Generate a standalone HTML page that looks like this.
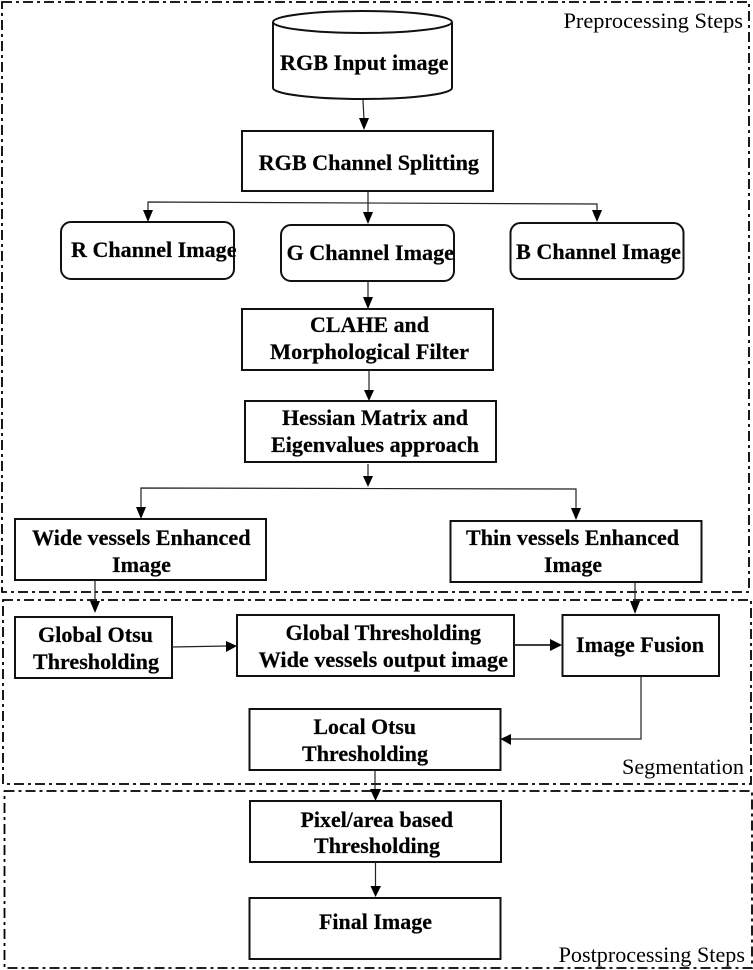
<!DOCTYPE html>
<html><head><meta charset="utf-8"><style>
html,body{margin:0;padding:0;background:#fff;width:753px;height:970px;overflow:hidden}
svg{display:block}
text{font-family:"Liberation Serif",serif;font-size:22px;fill:#000;font-weight:bold;stroke:#000;stroke-width:.2px}
text.r{font-weight:normal;stroke:none}
.b{fill:#fff;stroke:#111;stroke-width:2}
.f{fill:none;stroke:#000;stroke-width:1.8;stroke-dasharray:10 4 3 4}
.l{fill:none;stroke:#222;stroke-width:1.2}
.a{fill:#000;stroke:none}
</style></head><body>
<svg width="753" height="970" viewBox="0 0 753 970" xmlns="http://www.w3.org/2000/svg">
<rect class="f" x="2" y="2" width="747" height="590"/>
<rect class="f" x="3" y="600" width="748" height="184"/>
<rect class="f" x="4.5" y="791" width="747.5" height="177"/>

<path class="b" d="M273 22V88C273 94 313 99 362.500 99S452 94 452 88V22"/>
<ellipse class="b" cx="362.500" cy="22" rx="89.500" ry="11"/>
<rect class="b" x="242" y="131" width="251" height="60"/>
<rect class="b" x="61" y="222" width="173" height="57" rx="10"/>
<rect class="b" x="281" y="225" width="173" height="56" rx="10"/>
<rect class="b" x="510.500" y="223" width="173" height="56" rx="10"/>
<rect class="b" x="242" y="309" width="251" height="61"/>
<rect class="b" x="245" y="401" width="251" height="61"/>
<rect class="b" x="15" y="519" width="251" height="61"/>
<rect class="b" x="450.500" y="521" width="251" height="61"/>
<rect class="b" x="15" y="617" width="157" height="61"/>
<rect class="b" x="237" y="615" width="277" height="61"/>
<rect class="b" x="562.500" y="615" width="156.500" height="61"/>
<rect class="b" x="249.500" y="709" width="251" height="61"/>
<rect class="b" x="250" y="801" width="251" height="61"/>
<rect class="b" x="249.500" y="898" width="251" height="61"/>

<path class="l" d="M363 100L364 120"/><path class="a" d="M359 118H369L364 130Z"/>
<path class="l" d="M368 191V213"/><path class="a" d="M363 212H373L368 224Z"/>
<path class="l" d="M148 212V202L597 204V212"/>
<path class="a" d="M143 210H153L148 222Z"/><path class="a" d="M592 210H602L597 222Z"/>
<path class="l" d="M368 281V298"/><path class="a" d="M363 297H373L368 309Z"/>
<path class="l" d="M369 370V392"/><path class="a" d="M364 390H374L369 401Z"/>
<path class="l" d="M368 464V478"/><path class="a" d="M363 476H373L368 487Z"/>
<path class="l" d="M141 510V488L576 489V510"/>
<path class="a" d="M136 507H146L141 519Z"/><path class="a" d="M571 508H581L576 520Z"/>
<path class="l" d="M95 580V603"/><path class="a" d="M90 601H100L95 613Z"/>
<path class="l" d="M635 582V603"/><path class="a" d="M630 601H640L635 614Z"/>
<path class="l" d="M172 647L227 646"/><path class="a" d="M226 641V652L237 646Z"/>
<path class="l" d="M514 645H552" style="stroke-width:1.800"/><path class="a" d="M550 639V651L562 645Z"/>
<path class="l" d="M641 676V739H510"/><path class="a" d="M511 734V745L500.500 739Z"/>
<path class="l" d="M375 770V790"/><path class="a" d="M370 789H381L375.500 801Z"/>
<path class="l" d="M375.500 862V887"/><path class="a" d="M370.500 886H381L375.500 897Z"/>

<text class="r" x="563.500" y="28" textLength="179.500" lengthAdjust="spacingAndGlyphs">Preprocessing Steps</text>
<text x="280" y="70" textLength="168.500" lengthAdjust="spacingAndGlyphs">RGB Input image</text>
<text x="258.600" y="170" textLength="220.400" lengthAdjust="spacingAndGlyphs">RGB Channel Splitting</text>
<text x="71" y="257" textLength="165.500" lengthAdjust="spacingAndGlyphs">R Channel Image</text>
<text x="286.500" y="260" textLength="167.500" lengthAdjust="spacingAndGlyphs">G Channel Image</text>
<text x="516" y="259" textLength="165" lengthAdjust="spacingAndGlyphs">B Channel Image</text>
<text x="310" y="332" textLength="119" lengthAdjust="spacingAndGlyphs">CLAHE and</text>
<text x="270" y="359" textLength="199" lengthAdjust="spacingAndGlyphs">Morphological Filter</text>
<text x="282" y="425" textLength="186" lengthAdjust="spacingAndGlyphs">Hessian Matrix and</text>
<text x="271" y="452" textLength="208" lengthAdjust="spacingAndGlyphs">Eigenvalues approach</text>
<text x="32" y="545" textLength="218.500" lengthAdjust="spacingAndGlyphs">Wide vessels Enhanced</text>
<text x="112" y="572" textLength="59" lengthAdjust="spacingAndGlyphs">Image</text>
<text x="466" y="545" textLength="213" lengthAdjust="spacingAndGlyphs">Thin vessels Enhanced</text>
<text x="544" y="572" textLength="58" lengthAdjust="spacingAndGlyphs">Image</text>
<text x="38" y="642" textLength="115" lengthAdjust="spacingAndGlyphs">Global Otsu</text>
<text x="33" y="669" textLength="126" lengthAdjust="spacingAndGlyphs">Thresholding</text>
<text x="285.500" y="640" textLength="195.500" lengthAdjust="spacingAndGlyphs">Global Thresholding</text>
<text x="258.600" y="667" textLength="249.400" lengthAdjust="spacingAndGlyphs">Wide vessels output image</text>
<text x="576" y="652" textLength="128" lengthAdjust="spacingAndGlyphs">Image Fusion</text>
<text x="313.500" y="734" textLength="102.500" lengthAdjust="spacingAndGlyphs">Local Otsu</text>
<text x="302" y="761" textLength="126" lengthAdjust="spacingAndGlyphs">Thresholding</text>
<text class="r" x="622" y="774" textLength="122" lengthAdjust="spacingAndGlyphs">Segmentation</text>
<text x="300.500" y="827" textLength="152.500" lengthAdjust="spacingAndGlyphs">Pixel/area based</text>
<text x="314" y="853" textLength="126" lengthAdjust="spacingAndGlyphs">Thresholding</text>
<text x="319" y="929" textLength="113" lengthAdjust="spacingAndGlyphs">Final Image</text>
<text class="r" x="558.600" y="962" textLength="186.400" lengthAdjust="spacingAndGlyphs">Postprocessing Steps</text>
</svg>
</body></html>
